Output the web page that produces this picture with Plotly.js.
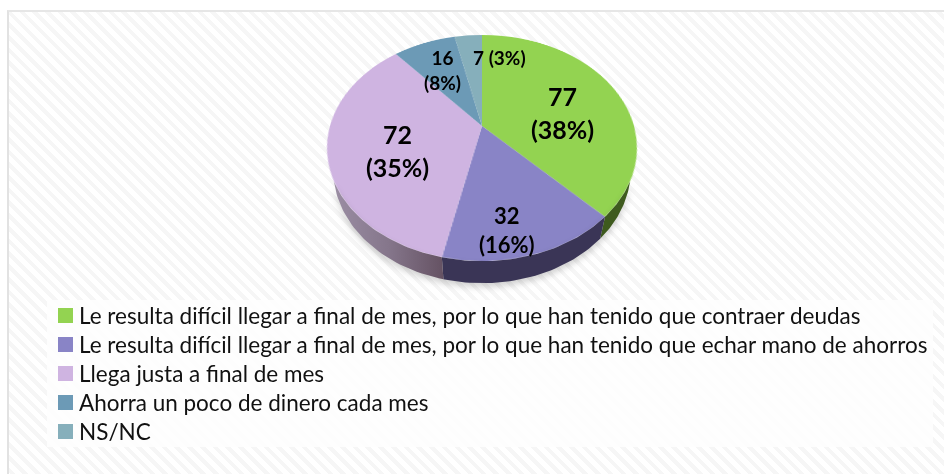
<!DOCTYPE html>
<html>
<head>
<meta charset="utf-8">
<script src="https://cdn.plot.ly/plotly-3.0.1.min.js"></script>
<style>
  html, body { margin: 0; padding: 0; background: #fff; width: 944px; height: 474px; overflow: hidden; }
  #frame { position: absolute; left: 7px; top: 10px; width: 940px; height: 470px; box-sizing: border-box;
           border-left: 2px solid #e2e2e2; border-top: 2px solid #e6e6e6;
           background: repeating-linear-gradient(45deg, #ffffff 0 5px, #f6f6f6 5px 9px); }
  #pie, #main { position: absolute; }
  #pie { width: 300px; height: 300px; }
  #main { left: 0; top: 0; width: 944px; height: 474px; }
  #main .legendtext { transform: translate(-11.5px, 0) scale(1.125); }
  #main .legend .scrollbox { clip-path: none !important; }
  #main .scatterlayer { filter: drop-shadow(0 4px 3px rgba(0,0,0,0.18)); }
</style>
</head>
<body>
<div id="frame"></div>
<div id="pie"></div>
<div id="main"></div>
<script>
// ---- data ----
const categories = [
  "Le resulta difícil llegar a final de mes, por lo que han tenido que contraer deudas",
  "Le resulta difícil llegar a final de mes, por lo que han tenido que echar mano de ahorros",
  "Llega justa a final de mes",
  "Ahorra un poco de dinero cada mes",
  "NS/NC"
];
const values = [77, 32, 72, 16, 7];
const colors = ["#93d351", "#8984c6", "#cfb4e1", "#6c9ab6", "#86afbb"];

// ---- label placement and type size, per slice ----
const labelX = [562, 507, 397, 442, 499];
const labelY = [112, 230, 150, 70, 57];
const labelSize = [25, 22, 25, 19, 19];

// ---- tilt of the disc: a circle seen in perspective ----
const cx = 482, cy = 126;            // apex on screen
const A = 152, B = 108.8, K = 0.195; // half width, half height, perspective
const depth = 22, taper = 0.96, R = 150; // wall height, narrowing of its lower rim, pie radius in its own plot

const total = values.reduce((s, v) => s + v, 0);
const TAU = 2 * Math.PI;
function rim(theta, dy, scale) {
  const u = Math.sin(theta), v = Math.cos(theta), w = 1 + K * v;
  return [cx + scale * A * u / w, cy - B * v / w + dy];
}
// position of a screen point relative to the unit circle of the disc
function disc(p) {
  const x = (p[0] - cx) / A, y = -(p[1] - cy) / B, w = 1 - K * y;
  return [x / w, y / w];
}
const lower = t => rim(t, depth, taper);
const isOut = t => { const d = disc(lower(t)); return d[0] * d[0] + d[1] * d[1] > 1; };
const angleOf = p => { const d = disc(p); return (Math.atan2(d[0], d[1]) + TAU) % TAU; };

// where the lower rim emerges from behind the disc, on the right and on the left
let lowR = Math.PI / 2, lowL = 3 * Math.PI / 2;
while (!isOut(lowR)) lowR += 0.001;
while (!isOut(lowL)) lowL -= 0.001;
const topR = angleOf(lower(lowR)), topL = angleOf(lower(lowL));

// the disc: a real pie, tilted as a whole
const pieEl = document.getElementById('pie');
pieEl.style.left = (cx - R) + 'px';
pieEl.style.top = (cy - R) + 'px';
pieEl.style.transformOrigin = '50% 50%';
pieEl.style.transform = `matrix3d(${A / R},0,0,0, 0,${B / R},0,${-K / R}, 0,0,1,0, 0,0,0,1)`;
Plotly.newPlot(pieEl, [{
  type: 'pie', values: values, labels: categories, sort: false, direction: 'clockwise', rotation: 0,
  marker: { colors: colors, line: { width: 0 } }, textinfo: 'none', hoverinfo: 'label+value+percent', showlegend: false
}], {
  width: 2 * R, height: 2 * R, margin: { l: 0, r: 0, t: 0, b: 0, pad: 0 },
  paper_bgcolor: 'rgba(0,0,0,0)', plot_bgcolor: 'rgba(0,0,0,0)', showlegend: false
}, { displayModeBar: false, staticPlot: true });

// the wall below the disc, one piece per slice
const wallStyle = [
  { fillcolor: '#3e5a1e' },
  { fillcolor: '#3a3556' },
  { fillgradient: { type: 'horizontal', colorscale: [[0, '#9a8da3'], [0.5, '#85768b'], [1, '#655263']] } }
];
const traces = [];
let run = 0;
values.forEach((val, i) => {
  const t0 = run / total * TAU;
  run += val;
  const t1 = run / total * TAU;
  if (!wallStyle[i]) return;
  const a1 = Math.max(t0, topR), b1 = Math.min(t1, topL);
  const a2 = Math.max(t0, lowR), b2 = Math.min(t1, lowL);
  if (b1 <= a1 || b2 <= a2) return;
  const pts = [];
  for (let n = 0; n <= 40; n++) pts.push(rim(a1 + (b1 - a1) * n / 40, 0, 1));
  for (let n = 40; n >= 0; n--) pts.push(lower(a2 + (b2 - a2) * n / 40));
  pts.push(pts[0]);
  traces.push(Object.assign({
    type: 'scatter', mode: 'lines', x: pts.map(p => p[0]), y: pts.map(p => p[1]),
    fill: 'toself', line: { width: 0 }, hoverinfo: 'skip', showlegend: false
  }, wallStyle[i]));
});

// legend entries
categories.forEach((name, i) => traces.push({
  type: 'scatter', mode: 'markers', x: [null], y: [null], name: name,
  marker: { symbol: 'square', size: 15, color: colors[i] }
}));

const annotations = values.map((v, i) => {
  const pct = Math.round(v / total * 100);
  return {
    xref: 'x', yref: 'y', x: labelX[i], y: labelY[i], showarrow: false,
    text: i === 4 ? `<b>${v} (${pct}%)</b>` : `<b>${v}<br>(${pct}%)</b>`,
    font: { family: 'Lato, sans-serif', size: labelSize[i], color: '#000' }
  };
});

Plotly.newPlot('main', traces, {
  width: 944, height: 474, margin: { l: 0, r: 0, t: 0, b: 0, pad: 0 },
  paper_bgcolor: 'rgba(0,0,0,0)', plot_bgcolor: 'rgba(0,0,0,0)',
  xaxis: { range: [0, 944], visible: false, fixedrange: true },
  yaxis: { range: [474, 0], visible: false, fixedrange: true },
  showlegend: true,
  legend: {
    x: 45.5 / 944, xanchor: 'left', y: 1 - 296 / 474, yanchor: 'top', bgcolor: 'rgba(0,0,0,0)',
    font: { family: 'Lato, sans-serif', size: 20, color: '#111' }, itemsizing: 'trace', tracegroupgap: 0,
    entrywidth: 885, entrywidthmode: 'pixels'
  },
  shapes: [{
    type: 'rect', xref: 'x', yref: 'y', x0: 47, x1: 933, y0: 300, y1: 447, layer: 'below',
    fillcolor: 'rgba(254,254,254,0.9)', line: { width: 0 }
  }],
  annotations: annotations
}, { displayModeBar: false });
</script>
</body>
</html>
